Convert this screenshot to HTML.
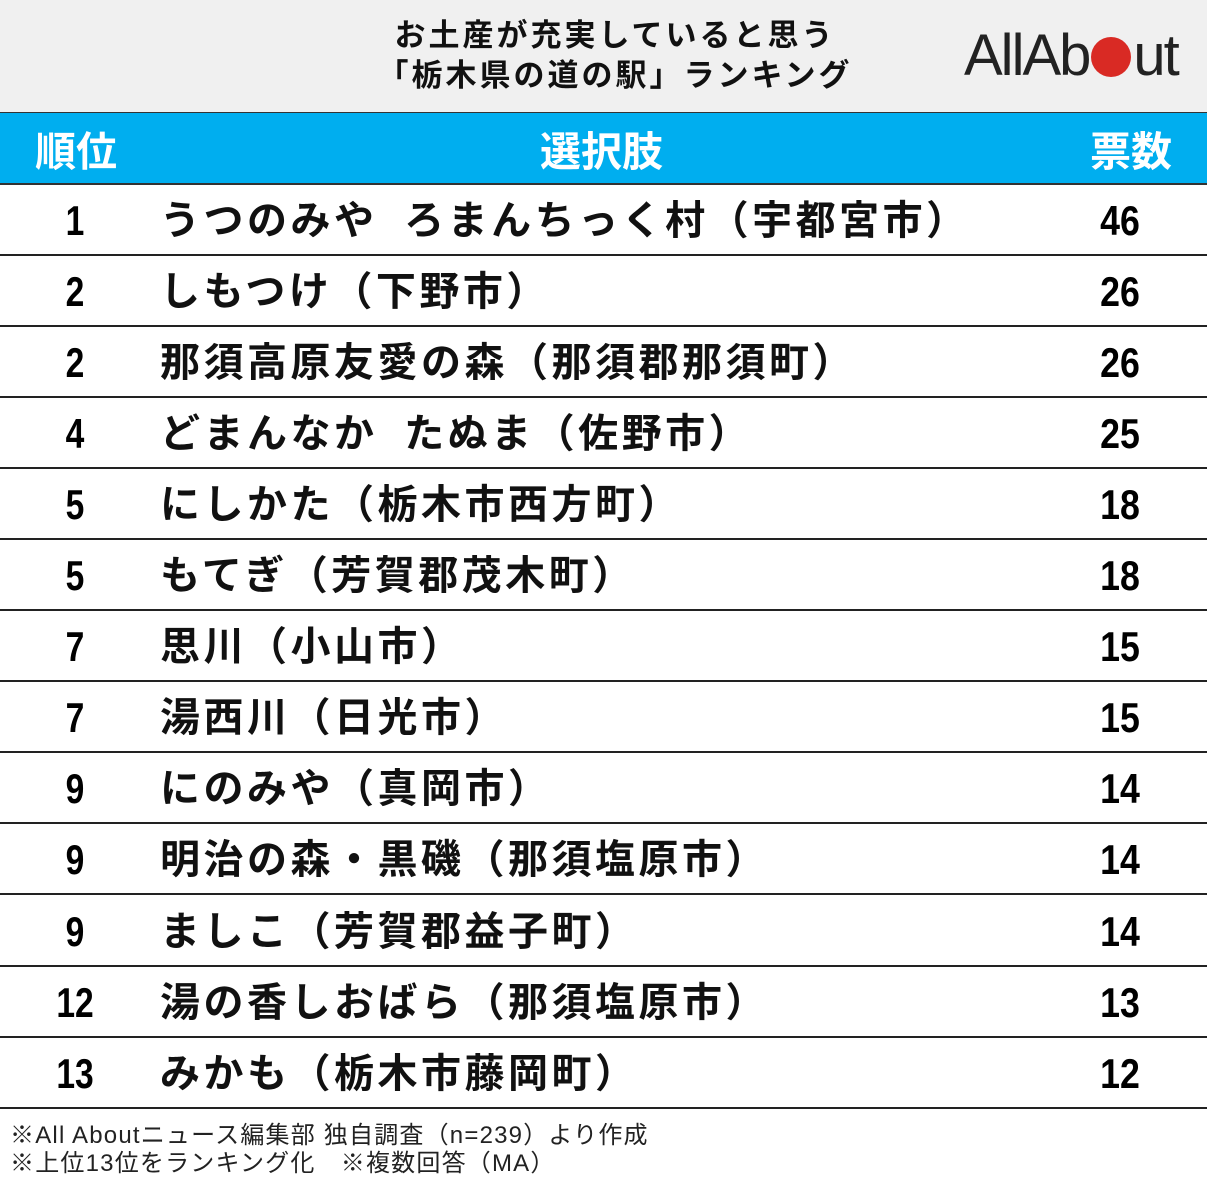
<!DOCTYPE html>
<html><head><meta charset="utf-8"><style>
body{margin:0;width:1207px;height:1181px;background:#fff;position:relative;overflow:hidden;font-family:"Liberation Sans","Noto Sans CJK JP",sans-serif;}
.hd{position:absolute;left:0;top:0;width:1207px;height:112px;background:#f0f0f0;}
.title{position:absolute;left:290px;width:650px;top:16px;text-align:center;font-size:31px;font-weight:bold;line-height:40px;color:#111;letter-spacing:3px;}
.logo{position:absolute;left:964px;top:22px;font-size:58px;letter-spacing:-2px;color:#222;font-family:"Liberation Sans",sans-serif;}
.dot{display:inline-block;width:40px;height:40px;border-radius:50%;background:#d92a24;vertical-align:-2px;margin:0 2px;}
.bar{position:absolute;left:0;top:112px;width:1207px;height:70px;background:#00aeef;border-top:1px solid #333;border-bottom:2px solid #333;color:#fff;font-weight:bold;font-size:41px;}
.bar div{position:absolute;top:17px;line-height:44px;}
.row{position:absolute;left:0;width:1207px;height:70px;border-bottom:2px solid #222;}
.r{position:absolute;left:40px;width:70px;text-align:center;top:14px;font-size:42px;line-height:46px;transform:scaleX(.8);font-weight:bold;}
.n{position:absolute;left:160px;top:14px;font-size:40px;font-weight:bold;letter-spacing:3.5px;word-spacing:12px;line-height:46px;white-space:nowrap;color:#111;}
.v{position:absolute;left:1080px;width:80px;text-align:center;top:14px;font-size:42px;line-height:46px;transform:scaleX(.85);font-weight:bold;}
.ft{position:absolute;left:10px;top:1122px;font-size:24px;line-height:28px;color:#222;letter-spacing:1.2px;}
</style></head><body>
<div class="hd"></div>
<div class="title">お土産が充実していると思う<br>「栃木県の道の駅」ランキング</div>
<div class="logo">AllAb<span class="dot"></span>ut</div>
<div class="bar"><div style="left:35px">順位</div><div style="left:540px">選択肢</div><div style="left:1090px">票数</div></div>
<div class="row" style="top:184px"><div class="r">1</div><div class="n">うつのみや ろまんちっく村（宇都宮市）</div><div class="v">46</div></div>
<div class="row" style="top:255px"><div class="r">2</div><div class="n">しもつけ（下野市）</div><div class="v">26</div></div>
<div class="row" style="top:326px"><div class="r">2</div><div class="n">那須高原友愛の森（那須郡那須町）</div><div class="v">26</div></div>
<div class="row" style="top:397px"><div class="r">4</div><div class="n">どまんなか たぬま（佐野市）</div><div class="v">25</div></div>
<div class="row" style="top:468px"><div class="r">5</div><div class="n">にしかた（栃木市西方町）</div><div class="v">18</div></div>
<div class="row" style="top:539px"><div class="r">5</div><div class="n">もてぎ（芳賀郡茂木町）</div><div class="v">18</div></div>
<div class="row" style="top:610px"><div class="r">7</div><div class="n">思川（小山市）</div><div class="v">15</div></div>
<div class="row" style="top:681px"><div class="r">7</div><div class="n">湯西川（日光市）</div><div class="v">15</div></div>
<div class="row" style="top:752px"><div class="r">9</div><div class="n">にのみや（真岡市）</div><div class="v">14</div></div>
<div class="row" style="top:823px"><div class="r">9</div><div class="n">明治の森・黒磯（那須塩原市）</div><div class="v">14</div></div>
<div class="row" style="top:895px"><div class="r">9</div><div class="n">ましこ（芳賀郡益子町）</div><div class="v">14</div></div>
<div class="row" style="top:966px"><div class="r">12</div><div class="n">湯の香しおばら（那須塩原市）</div><div class="v">13</div></div>
<div class="row" style="top:1037px"><div class="r">13</div><div class="n">みかも（栃木市藤岡町）</div><div class="v">12</div></div>
<div class="ft">※All Aboutニュース編集部 独自調査（n=239）より作成<br>※上位13位をランキング化　※複数回答（MA）</div>
</body></html>
